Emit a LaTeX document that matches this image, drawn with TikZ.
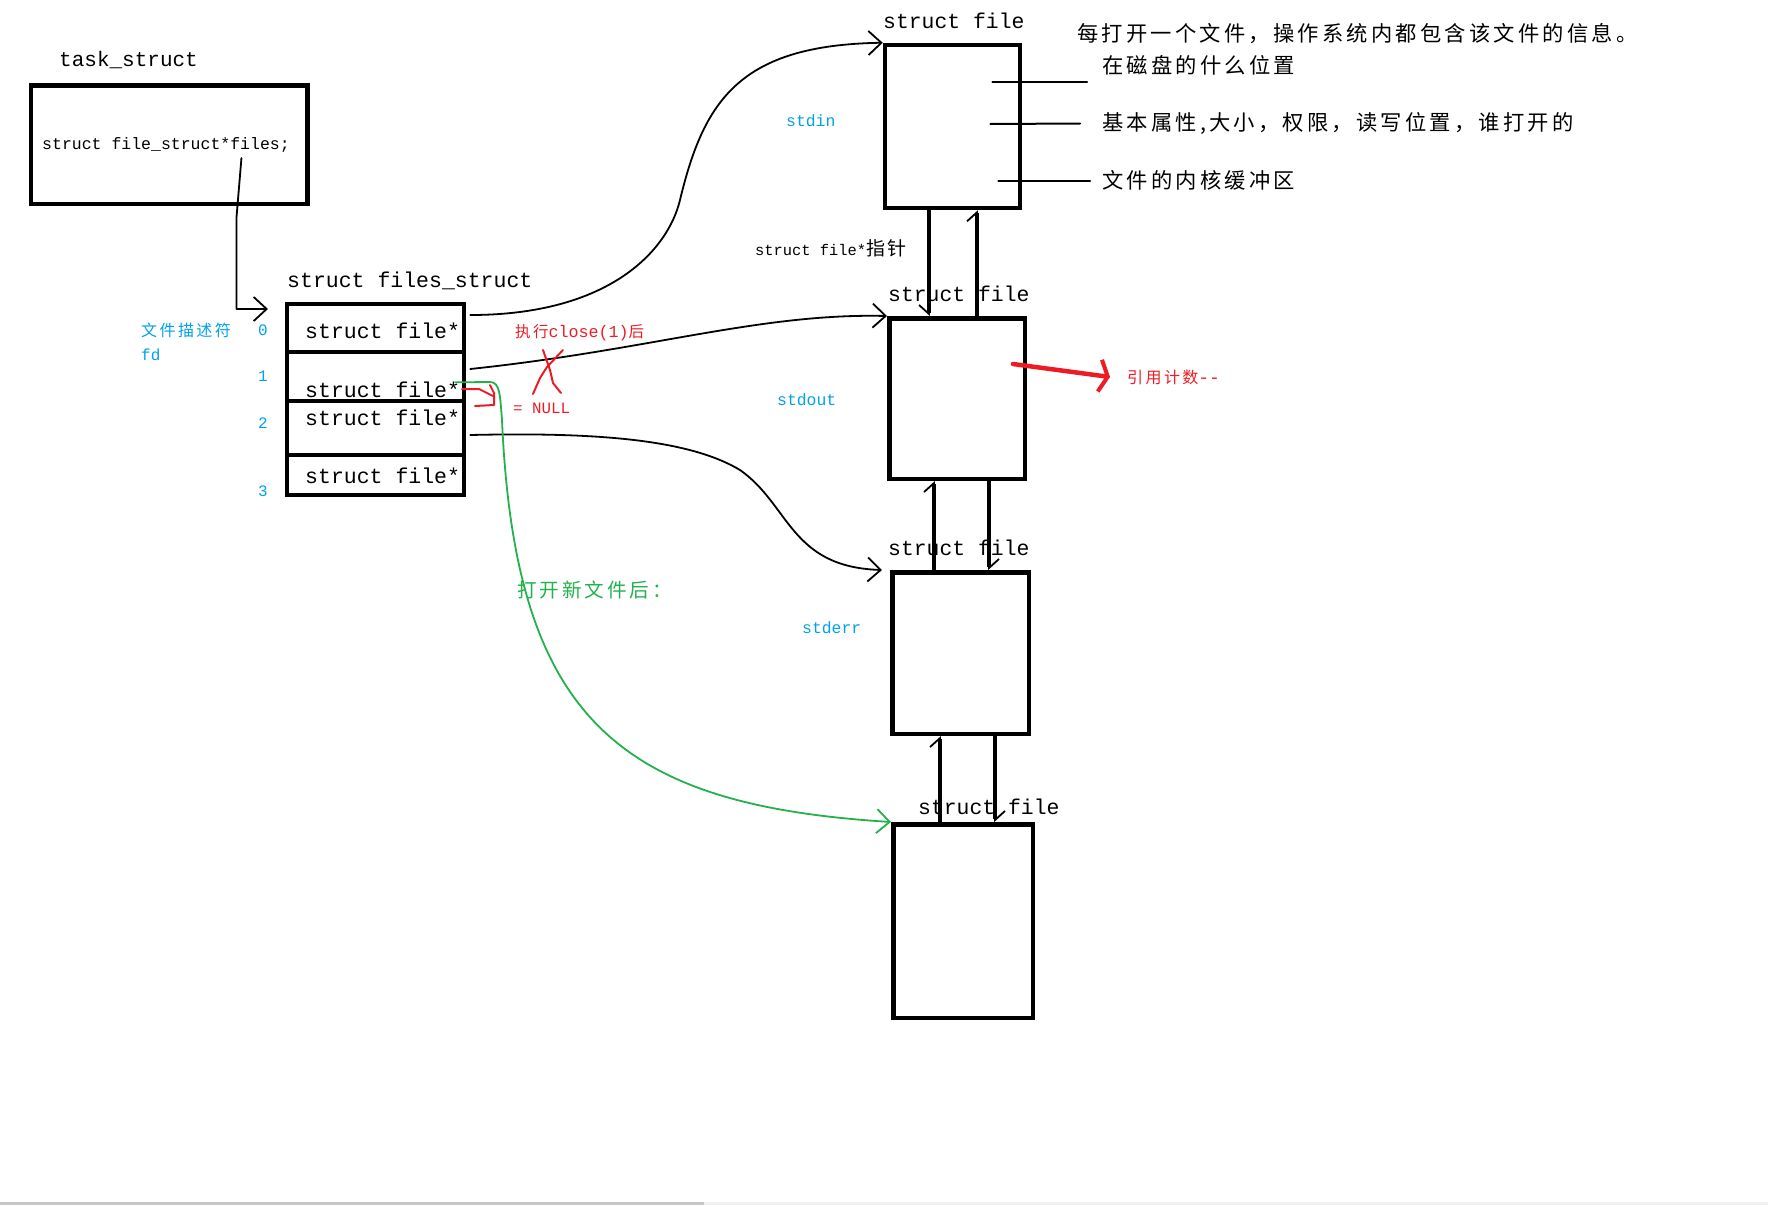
\documentclass[tikz,border=0pt]{standalone}
\usepackage{fontspec}
\setmainfont{Liberation Mono}
\newfontfamily\cjk[LetterSpace=15]{Noto Sans CJK SC}
\usepackage{tikz}
\usetikzlibrary{arrows.meta}
\usetikzlibrary{calc}
\definecolor{fdblue}{RGB}{0,162,232}
\definecolor{paintred}{RGB}{237,28,36}
\definecolor{paintgreen}{RGB}{34,177,76}
\newcommand{\fsz}[1]{\fontsize{#1}{#1}\selectfont}
\tikzset{
  box/.style={draw,line width=4.5pt,line join=miter,inner sep=0pt},
  txt/.style={inner sep=0pt,anchor=base west,font=\fsz{#1}},
  cn/.style={inner sep=0pt,anchor=west,font=\cjk\fsz{#1}},
  ptr/.style={line width=1.8pt,-{Straight Barb[length=13pt,width=24pt]}},
  nx/.style={line width=4.5pt,line cap=butt,-{Straight Barb[#1,length=9pt,width=20pt,line width=1.8pt]}},
}

\begin{document}
\begin{tikzpicture}
    [line cap=round,line join=round,x=1pt,y=-1pt]
\useasboundingbox (0,0) rectangle (1768,1205);
%task_struct
\node[box,minimum width=276.8pt,minimum height=118.5pt] (task) at (169.3,144.5) {};
\node[txt=21] (tasklbl) at (59,66) {task\_struct};
\node[txt=16.5] (files) at (42,149) {struct file\_struct*files;};

%files_struct table
\node[box,minimum width=177pt,minimum height=48pt] (c0) at (375.5,328) {};
\node[box,minimum width=177pt,minimum height=49pt] (c1) at (375.5,376.5) {};
\node[box,minimum width=177pt,minimum height=54pt] (c2) at (375.5,428) {};
\node[box,minimum width=177pt,minimum height=40pt] (c3) at (375.5,475) {};
\node[txt=21.5] (fslbl) at (287,287) {struct files\_struct};
\node[txt=21.5] (r0) at (305,338) {struct file*};
\node[txt=21.5] (r1) at (305,397) {struct file*};
\node[txt=21.5] (r2) at (305,425) {struct file*};
\node[txt=21.5] (r3) at (305,483) {struct file*};
%fd numbers
\node[cn=16,fdblue] (fdname) at (141,330) {文件描述符};
\node[txt=16,fdblue] (fd) at (141,360) {fd};
\foreach \i/\y in {0/335,1/381,2/428,3/496}
  \node[txt=16,fdblue] (n\i) at (258,\y) {\i};

\coordinate (fdin) at (268,309);
\draw[ptr] ($(files.south east)+(-48.5,6)$) -- ++(-5,60) |- (fdin);

%struct file objects
\node[box,minimum width=135pt,minimum height=163pt] (f1) at (952.5,126.5) {};
\node[box,minimum width=135.5pt,minimum height=160.5pt] (f2) at (957,398.5) {};
\node[box,minimum width=136.5pt,minimum height=161.5pt] (f3) at (960.5,653) {};
\node[box,minimum width=139.5pt,minimum height=193.5pt] (f4) at (963,921) {};
\node[txt=21.4] (f1lbl) at (883,28) {struct file};
\node[txt=21.4] (f2lbl) at (888,301) {struct file};
\node[txt=21.4] (f3lbl) at (888,555) {struct file};
\node[txt=21.4] (f4lbl) at (918,814) {struct file};
\node[txt=16.4,fdblue] (stdin) at (786,126) {stdin};
\node[txt=16.4,fdblue] (stdout) at (777,405) {stdout};
\node[txt=16.4,fdblue] (stderr) at (802,633) {stderr};
\node[txt=15.4] (ptrlbl) at (755,255) {struct file*{\cjk\fsz{19}指针}};

%what a struct file holds
\node[cn=21.3] (info) at (1077,33.5) {每打开一个文件，操作系统内都包含该文件的信息。};
\node[cn=21.3] (loc) at (1102,65) {在磁盘的什么位置};
\node[cn=21.3] (attr) at (1102,123.5) {基本属性,大小，权限，读写位置，谁打开的};
\node[cn=21.3] (buf) at (1102,180.5) {文件的内核缓冲区};
\draw[line width=2pt] ($(f1.east)+(-30,-44.5)$) -- ($(loc.west)+(-15,17)$);
\draw[line width=2pt] ($(f1.east)+(-32,-2.5)$) -- ($(attr.west)+(-22,0)$);
\draw[line width=2pt] ($(f1.east)+(-24,54)$) -- ($(buf.west)+(-12,0)$);

%fd array -> struct file
\draw[ptr] ($(c0.east)+(4,-13)$) .. controls (610,315) and (668,250) .. (680,200)
  .. controls (704,100) and (740,45) .. (f1.north west);
\draw[ptr] ($(c1.east)+(4,-7.5)$) .. controls (650,350) and (760,313) .. (f2.north west);
\draw[ptr] ($(c2.east)+(4,7)$) .. controls (600,432) and (690,440) .. (740,470)
  .. controls (790,505) and (790,567) .. ($(f3.north west)+(-8,0)$);

%list links between the struct file objects
\coordinate (l1a) at ($(f1.south)+(-23.5,0)$);
\coordinate (l1b) at ($(f1.south)+(24.5,0)$);
\coordinate (l2a) at ($(f2.south)+(-23,0)$);
\coordinate (l2b) at ($(f2.south)+(32,0)$);
\coordinate (l3a) at ($(f3.south)+(-20.5,0)$);
\coordinate (l3b) at ($(f3.south)+(34.5,0)$);
\draw[nx=right] (l1a) -- (l1a |- f2.north);
\draw[nx=left] (l1b |- f2.north) -- (l1b);
\draw[nx=left] (l2a |- f3.north) -- (l2a);
\draw[nx=left] (l2b) -- (l2b |- f3.north);
\draw[nx=left] (l3a |- f4.north) -- (l3a);
\draw[nx=left] (l3b) -- (l3b |- f4.north);

%close(1)
\node[cn=15.5,paintred] (closed) at (515,333) {执行{\rmfamily\fsz{16.7}close(1)}后};
\node[txt=15.8,paintred] (null) at (513,413) {= NULL};
\draw[paintred,line width=2pt] (543,350) -- (550,370) -- (553,383) -- (561,393);
\draw[paintred,line width=2pt] (563,350) -- (547,367) -- (540,378) -- (533,394);
\draw[paintred,line width=2pt] (462,389) -- (479,389) -- (493,396);
\draw[paintred,line width=2pt] (490,385) -- (494,393) -- (494,405) -- (475,406);
\node[cn=16,paintred] (cnt) at (1127,377) {引用计数{\rmfamily\fsz{18}-{}-}};
\draw[paintred,line width=4.5pt,-{Straight Barb[length=8pt,width=32pt,line width=4pt]}] ($(f2.east)+(-14,-34.5)$) -- ($(cnt.west)+(-17,0)$);

%open a new file
\node[cn=19.6,paintgreen] (newopen) at (517,590) {打开新文件后：};
\draw[paintgreen,line width=1.8pt,-{Straight Barb[length=13pt,width=24pt]}] ($(r1.east)+(-5,-7)$) -- (490,382) .. controls (500,382) and (500,395) .. (502,420) .. controls (515,720) and (620,805) .. (f4.north west);

%bar at the bottom
\fill[gray!45] (0,1202) rectangle (704,1205);
\fill[gray!12] (704,1202) rectangle (1768,1205);
\end{tikzpicture}
\end{document}
